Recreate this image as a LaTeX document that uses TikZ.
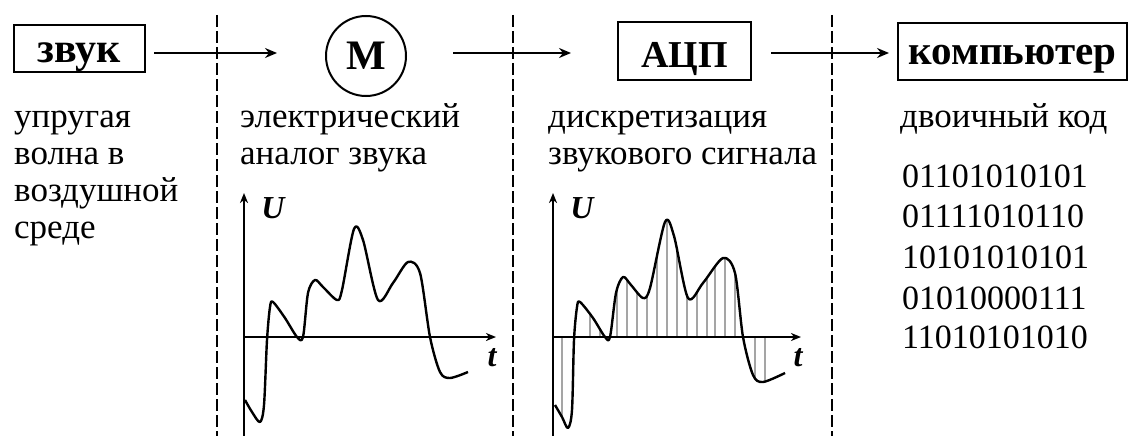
\documentclass[tikz,border=0pt]{standalone}
\usepackage{fontspec}
\setmainfont{Liberation Serif}
\usetikzlibrary{arrows.meta,intersections}
\begin{document}
\begin{tikzpicture}[x=1pt,y=-1pt,
  box/.style={draw,line width=2pt,inner sep=0pt,text depth=0pt,font=\fontsize{#1}{#1}\selectfont\bfseries},
  flow/.style={line width=2.2pt,-{Stealth[length=12pt,width=10pt,inset=4pt]}},
  divider/.style={line width=1.2pt,dash pattern=on 12pt off 4pt},
  txt/.style={anchor=base west,inner sep=0pt,font=\fontsize{35}{37}\selectfont},
  bin/.style={anchor=base west,inner sep=0pt,font=\fontsize{34}{38}\selectfont},
  axis/.style={line width=2.4pt,-{Stealth[length=10pt,width=8pt,inset=3pt]}},
  curve/.style={line width=2.4pt,line join=round},
  stem/.style={line width=0.9pt},
  lab/.style={inner sep=0pt,font=\fontsize{32}{34}\selectfont\bfseries\itshape}]
\useasboundingbox (0,0) rectangle (1129,436);
% blocks
\node[box=42,minimum width=131pt,minimum height=47pt,text height=29pt] (zvuk) at (79.5,48.5) {звук};
\node[box=42,circle,minimum size=80pt,text height=28pt] (mic) at (366,56) {М};
\node[box=38,minimum width=133pt,minimum height=58pt,text height=32pt] (adc) at (684.5,51) {АЦП};
\node[box=41,minimum width=229pt,minimum height=57pt,text height=27pt] (pc) at (1012.5,51.5) {компьютер};
% arrows
\draw[flow] ([xshift=8pt,yshift=-4.5pt]zvuk.east) -- ([xshift=-48pt,yshift=3pt]mic.west);
\draw[flow] ([xshift=46pt,yshift=3pt]mic.east) -- ([xshift=-46pt,yshift=-2pt]adc.west);
\draw[flow] ([xshift=19pt,yshift=-2pt]adc.east) -- ([xshift=-8pt,yshift=-1.5pt]pc.west);
% dividers
\draw[divider] (217,15) -- (217,436);
\draw[divider] (513,15) -- (513,436);
\draw[divider] (832,15) -- (832,436);
% texts
\node[txt] (a1) at (14,127) {упругая};
\node[txt] (a2) at (14,164) {волна в};
\node[txt] (a3) at (14,201) {воздушной};
\node[txt] (a4) at (14,238) {среде};
\node[txt] (b1) at (240,127) {электрический};
\node[txt] (b2) at (240,164) {аналог звука};
\node[txt] (c1) at (548,127) {дискретизация};
\node[txt] (c2) at (548,164) {звукового сигнала};
\node[txt] (d1) at (900,127) {двоичный код};
\node[bin] (e1) at (902,187) {01101010101};
\node[bin] (e2) at (902,227) {01111010110};
\node[bin] (e3) at (902,268) {10101010101};
\node[bin] (e4) at (902,309) {01010000111};
\node[bin] (e5) at (902,348) {11010101010};
% graph 1
\draw[axis] (244,436) -- (244,193);
\draw[axis] (244,337) -- (496,337);
\node[lab] (u1) at (273,208) {U};
\node[lab] (t1) at (492,358) {t};
\draw[curve] plot[smooth,tension=0.5] coordinates {(245,400) (252,412) (260,422) (264,405) (267,340) (270,307) (273,302) (285,318) (297,337) (303,337) (308,293) (315,280) (323,287) (337,300) (342,290) (354,229) (363,240) (378,300) (393,283) (408,262) (420,273) (430,337) (440,372) (450,378) (468,372)};
% graph 2
\begin{scope}[xshift=310pt]
\draw[axis] (243,436) -- (243,193);
\draw[axis] (243,337) -- (491,337);
\node[lab] (u2) at (272,208) {U};
\node[lab] (t2) at (488,358) {t};
\draw[curve,name path=c2] plot[smooth,tension=0.5] coordinates {(245,405) (252,417) (258,428) (262,410) (264,340) (267,307) (270,302) (283,318) (295,337) (300,337) (306,293) (313,277) (321,285) (333,298) (340,288) (355,222) (364,236) (378,298) (393,283) (413,258) (425,273) (433,337) (443,375) (453,382) (475,373)};
\foreach \x in {252,280,290,307,317,327,337,347,357,367,377,387,397,405,415,425,445,455}{
  \path[name path=v] (\x,180) -- (\x,440);
  \draw[stem,name intersections={of=c2 and v,by=p}] (\x,337) -- (p);
}
\end{scope}
\end{tikzpicture}
\end{document}
